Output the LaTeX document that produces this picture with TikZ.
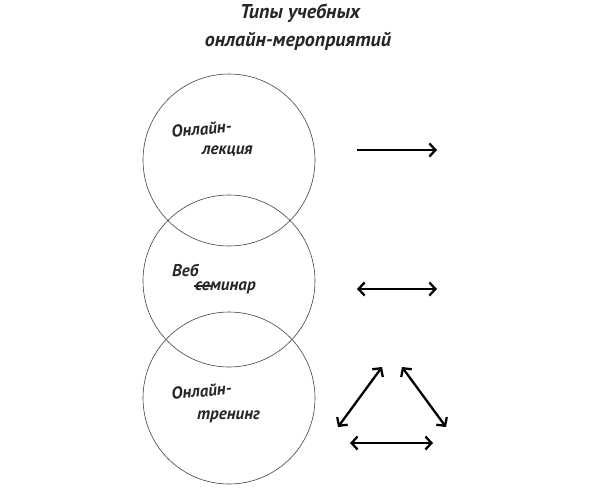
\documentclass[tikz,border=0pt]{standalone}
\usepackage{fontspec}
\setmainfont{PT Sans}
\usepackage{tikz}
\usetikzlibrary{arrows.meta, positioning}
\tikzstyle{circ} = [
  circle, draw=black!75, line width=0.6pt,
  minimum size=172pt, inner sep=0pt
]
\tikzstyle{hand} = [
  font=\fontsize{17}{20}\selectfont\bfseries\itshape, text=black!85,
  inner sep=0pt, anchor=base west
]
\tikzstyle{heading} = [
  font=\fontsize{20}{24}\selectfont\bfseries\itshape, text=black!85,
  inner sep=0pt, anchor=base
]
\tikzstyle{arrow} = [-{Straight Barb[length=6pt, width=13pt]}, line width=2.3pt]
\tikzstyle{twoway} = [{Straight Barb[length=6pt, width=13pt]}-{Straight Barb[length=6pt, width=13pt]}, line width=2.3pt]

\begin{document}
\begin{tikzpicture}[x=1pt, y=-1pt]
  \useasboundingbox (0,0) rectangle (591,490);

  % Title
  \node[heading] (title1) at (300,18) {Типы учебных};
  \node[heading] (title2) at (298,46) {онлайн-мероприятий};

  % Circles
  \node[circ] (lecture) at (229,160) {};
  \node[circ] (webinar) at (229,281) {};
  \node[circ] (training) at (229,398) {};

  % Circle texts
  \node[hand, rotate=6] (lec1) at (172,138) {Онлайн-};
  \node[hand] (lec2) at (202,154) {лекция};

  \node[hand] (web1) at (172,276) {Веб};
  \node[hand] (se) at (195,290) {се};
  \node[hand] (minar) at (se.base east) {минар};
  \draw[line width=1.2pt, black!85] ([yshift=4pt, xshift=-1pt]se.base west) -- ([yshift=4pt, xshift=2pt]se.base east);

  \node[hand, rotate=6] (tr1) at (172,400) {Онлайн-};
  \node[hand] (tr2) at (197,419) {тренинг};

  % Arrows
  \coordinate (oneA) at (357,150);
  \coordinate (oneB) at (437,150);
  \coordinate (twoA) at (357,289);
  \coordinate (twoB) at (437,289);
  \coordinate (triL) at (338,427);
  \coordinate (triTL) at (382,367);
  \coordinate (triTR) at (402,367);
  \coordinate (triR) at (446,427);
  \coordinate (triBL) at (350,443);
  \coordinate (triBR) at (433,443);

  \draw[arrow] (oneA) -- (oneB);
  \draw[twoway] (twoA) -- (twoB);
  \draw[twoway] (triL) -- (triTL);
  \draw[twoway] (triTR) -- (triR);
  \draw[twoway] (triBL) -- (triBR);

\end{tikzpicture}
\end{document}
